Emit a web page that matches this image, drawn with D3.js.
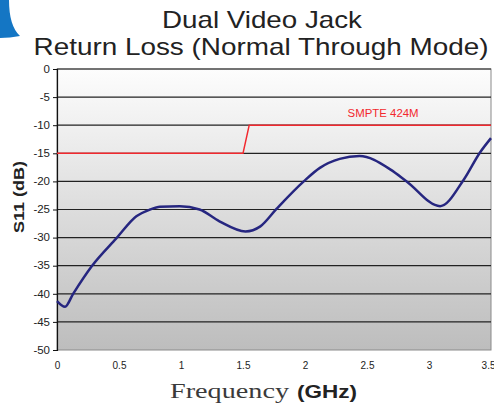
<!DOCTYPE html>
<html>
<head>
<meta charset="utf-8">
<script src="https://cdn.jsdelivr.net/npm/d3@7"></script>
<style>
  body { margin: 0; background: #fff; }
  text { font-family: Arial, "Liberation Sans", sans-serif; }
</style>
</head>
<body>
<div id="chart"></div>
<script>
// measured S11 curve (GHz, dB)
const freq = [0, 0.065, 0.13, 0.28, 0.48, 0.64, 0.75, 0.83, 0.99, 1.15, 1.31, 1.52, 1.64, 1.77, 1.99, 2.12, 2.28, 2.44, 2.69, 2.82, 3.09, 3.28, 3.41, 3.5];
const s11 = [-41.3, -42.3, -40.0, -35.1, -30.1, -26.2, -25.0, -24.5, -24.4, -25.0, -27.1, -28.9, -28.0, -24.9, -20.0, -17.6, -16.0, -15.5, -17.9, -20.0, -24.4, -19.7, -14.9, -12.3];

// SMPTE 424M limit mask
const limitFreq = [0, 1.5, 1.55, 3.5];
const limitDb = [-15, -15, -10, -10];

const xTicks = [0, 0.5, 1, 1.5, 2, 2.5, 3, 3.5];
const yTicks = [0, -5, -10, -15, -20, -25, -30, -35, -40, -45, -50];

const W = 494, H = 407;
var margin = {top: 69, right: 3, bottom: 57, left: 57};
var width = W - margin.left - margin.right;
var height = H - margin.top - margin.bottom;

var x = d3.scaleLinear().domain([0, 3.5]).range([0, width]);
var y = d3.scaleLinear().domain([-50, 0]).range([height, 0]);

// widen text horizontally like the original scan
function stretch(sel, sx) {
    sel.each(function() {
        var w = this.getComputedTextLength();
        d3.select(this).attr("textLength", w * sx).attr("lengthAdjust", "spacingAndGlyphs");
    });
}
function fitTo(sel, len) {
    sel.attr("textLength", len).attr("lengthAdjust", "spacingAndGlyphs");
}

var root = d3.select("#chart").append("svg")
    .attr("width", W)
    .attr("height", H);

// blue corner decoration
root.append("path")
    .attr("d", "M0,0 L9,0 Q9,26 20,36 Q10,38 0,38 Z")
    .style("fill", "#1476c4");

var defs = root.append("defs");
var grad = defs.append("linearGradient")
    .attr("id", "bg").attr("x1", 0).attr("y1", 0).attr("x2", 0).attr("y2", 1);
grad.append("stop").attr("offset", "0%").attr("stop-color", "#fdfdfd");
grad.append("stop").attr("offset", "100%").attr("stop-color", "#bdbdbd");

var svg = root.append("g")
    .attr("transform", "translate(" + margin.left + "," + margin.top + ")");

svg.append("rect")
    .attr("width", width).attr("height", height)
    .style("fill", "url(#bg)")
    .style("stroke", "#8a8a8a").style("stroke-width", 1);

// gridlines
svg.selectAll(".grid")
    .data(yTicks.filter(function(d) { return d > -50; }))
    .enter().append("line")
    .attr("x1", 0).attr("x2", width)
    .attr("y1", function(d) { return y(d); })
    .attr("y2", function(d) { return y(d); })
    .style("stroke", "#222").style("stroke-width", 1.2);

var fmt = function(d) { return String(d); };

// Y axis
var yAxis = svg.append("g")
    .call(d3.axisLeft(y).tickValues(yTicks).tickFormat(fmt).tickSize(4).tickPadding(3));
yAxis.select(".domain").style("stroke", "#111").style("stroke-width", 1.2);
yAxis.selectAll("line").style("stroke", "#111");
yAxis.selectAll("text").style("font-size", "10px").style("fill", "#222");
stretch(yAxis.selectAll("text"), 1.15);

// X axis labels (no tick marks)
var xAxis = svg.append("g")
    .attr("transform", "translate(0," + height + ")")
    .call(d3.axisBottom(x).tickValues(xTicks).tickFormat(fmt).tickSize(0).tickPadding(12));
xAxis.select(".domain").remove();
xAxis.selectAll("text").style("font-size", "10px").style("fill", "#222");
xAxis.selectAll("text").filter(function(d) { return d === 3.5; })
    .attr("text-anchor", "end").attr("dx", 4);

// limit line
var limit = limitFreq.map(function(f, i) { return {f: f, v: limitDb[i]}; });
svg.append("path")
    .datum(limit)
    .attr("d", d3.line().x(function(d) { return x(d.f); }).y(function(d) { return y(d.v); }))
    .style("fill", "none").style("stroke", "#f2282e").style("stroke-width", 1.5);

var lbl = svg.append("text")
    .attr("x", x(2.63)).attr("y", y(-8.6))
    .attr("text-anchor", "middle")
    .style("font-size", "10px").style("fill", "#f2282e")
    .text("SMPTE 424M");
stretch(lbl, 1.14);

// S11 curve
var pts = freq.map(function(f, i) { return {f: f, v: s11[i]}; });
svg.append("path")
    .datum(pts)
    .attr("d", d3.line().curve(d3.curveMonotoneX)
        .x(function(d) { return x(d.f); }).y(function(d) { return y(d.v); }))
    .style("fill", "none").style("stroke", "#262680").style("stroke-width", 2.5);

// titles
var t1 = root.append("text").attr("x", 262).attr("y", 28)
    .attr("text-anchor", "middle").style("font-size", "24px").style("fill", "#222")
    .text("Dual Video Jack");
var t2 = root.append("text").attr("x", 261).attr("y", 55)
    .attr("text-anchor", "middle").style("font-size", "24px").style("fill", "#222")
    .text("Return Loss (Normal Through Mode)");
fitTo(t1, 200);
fitTo(t2, 455);

// axis titles
var yl = root.append("text")
    .attr("transform", "translate(24,197) rotate(-90)")
    .attr("text-anchor", "middle")
    .style("font-size", "15px").style("font-weight", "bold").style("fill", "#222")
    .text("S11 (dB)");
stretch(yl, 1.2);

var xl1 = root.append("text").attr("x", 170).attr("y", 398)
    .style("font-family", "'Liberation Serif', 'Times New Roman', serif")
    .style("font-size", "20px").style("fill", "#3a3a3a")
    .text("Frequency");
fitTo(xl1, 119);
var xl2 = root.append("text").attr("x", 297).attr("y", 398)
    .style("font-size", "19px").style("font-weight", "bold").style("fill", "#222")
    .text("(GHz)");
fitTo(xl2, 60);
</script>
</body>
</html>
